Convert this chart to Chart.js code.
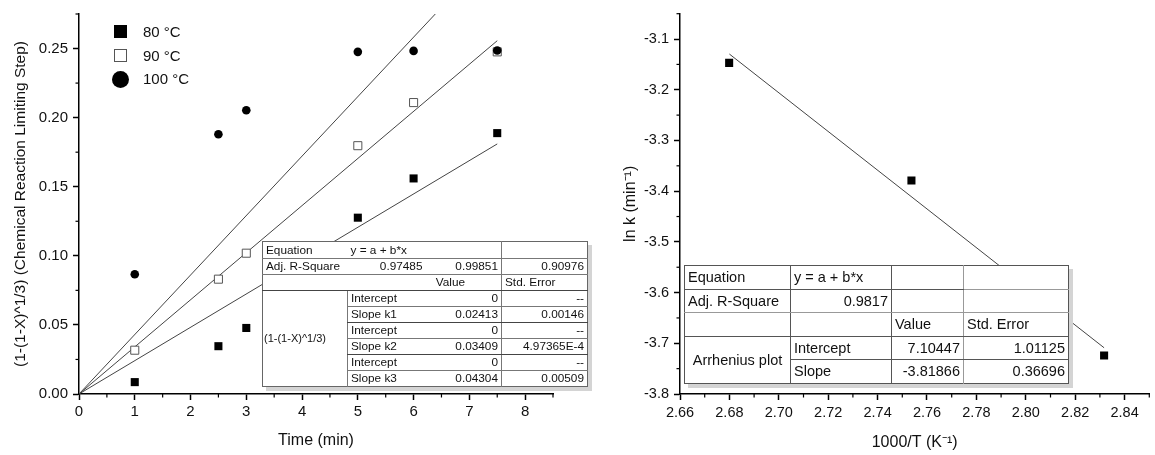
<!DOCTYPE html>
<html>
<head>
<meta charset="utf-8">
<script src="https://cdn.jsdelivr.net/npm/chart.js@4/dist/chart.umd.min.js"></script>
<style>
    body { margin: 0; background: #fff; font-family: Arial, "Liberation Sans", sans-serif; }
    #page { position: relative; width: 1155px; height: 455px; overflow: hidden; }
    .chart-box { position: absolute; top: 0; height: 455px; }
    .legend { position: absolute; left: 110px; top: 22px; font-size: 15px; color: #111; }
    .legend-row { position: relative; height: 23.5px; line-height: 20px; padding-left: 33px; }
    .legend-row .mk { position: absolute; box-sizing: border-box; }
    table.fit { position: absolute; border-collapse: collapse; background: #fff; color: #111;
        table-layout: fixed; box-shadow: 4px 4px 0 #d4d4d4; }
    table.fit td { padding: 0 3px; white-space: nowrap; overflow: hidden; border: 0; }
    #tblLeft { left: 262px; top: 241px; font-size: 11.8px; border: 1px solid #666; }
    #tblLeft td { height: 15px; line-height: 15px; }
    #tblRight { left: 684px; top: 265px; font-size: 14.5px; border: 1px solid #555; }
    #tblRight td { height: 22.5px; line-height: 22px; }
    .r { text-align: right; }
    .c { text-align: center; }
</style>
</head>
<body>
<div id="page">
    <div class="chart-box" style="left:0;width:578px;"><canvas id="kineticsChart"></canvas></div>
    <div class="chart-box" style="left:578px;width:577px;"><canvas id="arrheniusChart"></canvas></div>
    <div class="legend" id="legend"></div>
    <table class="fit" id="tblLeft"></table>
    <table class="fit" id="tblRight"></table>
</div>
<script>
// ---- data: conversion vs time ----
const timeMin = [1, 2.5, 3, 5, 6, 7.5];
const conv80 = [0.0086, 0.0346, 0.0478, 0.1276, 0.1560, 0.1888];
const conv90 = [0.0317, 0.0831, 0.1019, 0.1797, 0.2109, 0.2476];
const conv100 = [0.0867, 0.1880, 0.2053, 0.2476, 0.2483, 0.2486];
const seriesLabels = ['80 °C', '90 °C', '100 °C'];
const fitSlopes = [0.02413, 0.03409, 0.04304];
const fitTimeRange = [0, 7.5];

// ---- data: Arrhenius plot ----
const invTemp = [2.6799, 2.7537, 2.8317];
const lnK = [-3.147, -3.379, -3.724];
const arrFit = { intercept: 7.10447, slope: -3.81866 };
const arrFitRange = [2.68, 2.8317];

const FONT = 'Arial, "Liberation Sans", sans-serif';
const INK = '#111';

// short minor ticks between the major ones
const minorTicks = {
    id: 'minorTicks',
    afterDraw(chart, args, opts) {
        const ctx = chart.ctx;
        ctx.save();
        ctx.strokeStyle = '#000';
        ctx.lineWidth = 1.2;
        ['x', 'y'].forEach(id => {
            const s = chart.scales[id];
            const step = opts[id];
            if (!s || !step) return;
            const n0 = Math.ceil(s.min / step - 1e-6);
            const n1 = Math.floor(s.max / step + 1e-6);
            for (let i = n0; i <= n1; i++) {
                if (Math.abs(i % 2) === 0) continue;
                const p = s.getPixelForValue(i * step);
                ctx.beginPath();
                if (id === 'x') { ctx.moveTo(p, s.top); ctx.lineTo(p, s.top + 3.5); }
                else { ctx.moveTo(s.right, p); ctx.lineTo(s.right - 3.5, p); }
                ctx.stroke();
            }
        });
        ctx.restore();
    }
};

function axis(opts) {
    return {
        type: 'linear',
        min: opts.min,
        max: opts.max,
        border: { display: true, color: '#000', width: 1.5 },
        grid: { display: true, drawOnChartArea: false, drawTicks: true, tickLength: 6, tickColor: '#000', tickWidth: 1.5 },
        ticks: {
            padding: opts.pad,
            color: INK,
            font: { family: FONT, size: opts.tickSize },
            autoSkip: false,
            maxRotation: 0,
            callback: v => v.toFixed(opts.digits)
        },
        title: {
            display: true,
            text: opts.title,
            color: INK,
            font: { family: FONT, size: opts.titleSize },
            padding: opts.titlePad
        },
        // majors only at whole steps, not at the axis ends
        afterBuildTicks: s => {
            const ticks = [];
            const n0 = Math.ceil(opts.min / opts.step - 1e-6);
            const n1 = Math.floor(opts.max / opts.step + 1e-6);
            for (let i = n0; i <= n1; i++) ticks.push({ value: Math.round(i * opts.step * 1e6) / 1e6 });
            s.ticks = ticks;
        },
        afterFit: s => {
            if (opts.width) s.width = opts.width;
            if (opts.height) s.height = opts.height;
        }
    };
}

function pts(xs, ys) {
    return xs.map((x, i) => ({ x: x, y: ys[i] }));
}

function fitLine(slope, intercept, range) {
    return range.map(x => ({ x: x, y: intercept + slope * x }));
}

function lineSet(data) {
    return { type: 'line', data: data, showLine: true, borderColor: '#444', borderWidth: 1,
        pointRadius: 0, fill: false, order: 10 };
}

const kineticsDatasets = [
    { label: seriesLabels[0], data: pts(timeMin, conv80), pointStyle: 'rect', pointRadius: 5.7,
      backgroundColor: '#000', borderColor: '#000', borderWidth: 0, order: 3 },
    { label: seriesLabels[1], data: pts(timeMin, conv90), pointStyle: 'rect', pointRadius: 5.7,
      backgroundColor: '#fff', borderColor: '#555', borderWidth: 1, order: 2 },
    { label: seriesLabels[2], data: pts(timeMin, conv100), pointStyle: 'circle', pointRadius: 4.3,
      backgroundColor: '#000', borderColor: '#000', borderWidth: 0, order: 1 }
];
fitSlopes.forEach(k => kineticsDatasets.push(lineSet(fitLine(k, 0, fitTimeRange))));

new Chart(document.getElementById('kineticsChart'), {
    type: 'scatter',
    data: { datasets: kineticsDatasets },
    options: {
        responsive: true,
        maintainAspectRatio: false,
        animation: false,
        layout: { padding: { left: 0, top: 11, right: 25, bottom: 0 } },
        plugins: {
            legend: { display: false },
            tooltip: { enabled: false },
            minorTicks: { x: 0.5, y: 0.025 }
        },
        scales: {
            x: axis({ min: 0, max: 8.5, step: 1, digits: 0, pad: 3, height: 61, tickSize: 15,
                title: 'Time (min)', titleSize: 16, titlePad: { top: 4, bottom: 5 } }),
            y: axis({ min: 0, max: 0.275, step: 0.05, digits: 2, pad: 5, width: 79, tickSize: 15,
                title: '(1-(1-X)^1/3) (Chemical Reaction Limiting Step)', titleSize: 15.5, titlePad: { top: 11, bottom: 4 } })
        }
    },
    plugins: [minorTicks]
});

new Chart(document.getElementById('arrheniusChart'), {
    type: 'scatter',
    data: {
        datasets: [
            { label: 'ln k', data: pts(invTemp, lnK), pointStyle: 'rect', pointRadius: 5.7,
              backgroundColor: '#000', borderColor: '#000', borderWidth: 0, order: 1 },
            lineSet(fitLine(arrFit.slope, arrFit.intercept, arrFitRange))
        ]
    },
    options: {
        responsive: true,
        maintainAspectRatio: false,
        animation: false,
        layout: { padding: { left: 0, top: 11, right: 2, bottom: 0 } },
        plugins: {
            legend: { display: false },
            tooltip: { enabled: false },
            minorTicks: { x: 0.01, y: 0.05 }
        },
        scales: {
            x: axis({ min: 2.66, max: 2.85, step: 0.02, digits: 2, pad: 4, height: 61, tickSize: 14.5,
                title: '1000/T (K⁻¹)', titleSize: 16, titlePad: { top: 4, bottom: 3 } }),
            y: axis({ min: -3.8, max: -3.05, step: 0.1, digits: 1, pad: 5, width: 102, tickSize: 14.5,
                title: 'ln k (min⁻¹)', titleSize: 16, titlePad: { top: 43, bottom: 4 } })
        }
    },
    plugins: [minorTicks]
});

// ---- legend (HTML overlay) ----
const legendMarks = [
    'left:4px;top:3px;width:13px;height:13px;background:#000;',
    'left:4px;top:3px;width:13px;height:13px;background:#fff;border:1px solid #555;',
    'left:2px;top:2px;width:17px;height:17px;background:#000;border-radius:50%;'
];
document.getElementById('legend').innerHTML = seriesLabels.map((t, i) =>
    `<div class="legend-row"><span class="mk" style="${legendMarks[i]}"></span>${t}</div>`).join('');

// ---- fit result tables ----
const L = 'border-left:1px solid #777;';
const B = 'border-bottom:1px solid #777;';
const BD = 'border-bottom:1.5px solid #444;';
document.getElementById('tblLeft').innerHTML = `
    <colgroup><col style="width:85px"><col style="width:78px"><col style="width:76px"><col style="width:86px"></colgroup>
    <tr><td style="${B}height:16px">Equation</td><td colspan="2" style="${B}">y = a + b*x</td><td style="${B}${L}"></td></tr>
    <tr><td style="${B}">Adj. R-Square</td><td class="r" style="${B}">0.97485</td><td class="r" style="${B}">0.99851</td><td class="r" style="${B}${L}">0.90976</td></tr>
    <tr><td style="${BD}"></td><td style="${BD}"></td><td class="r" style="${BD}padding-right:36px">Value</td><td style="${BD}${L}">Std. Error</td></tr>
    <tr><td rowspan="6" style="padding:0 1px;font-size:11px">(1-(1-X)^1/3)</td><td style="${L}${B}">Intercept</td><td class="r" style="${B}">0</td><td class="r" style="${L}${B}">--</td></tr>
    <tr><td style="${L}${BD}">Slope k1</td><td class="r" style="${BD}">0.02413</td><td class="r" style="${L}${BD}">0.00146</td></tr>
    <tr><td style="${L}${B}">Intercept</td><td class="r" style="${B}">0</td><td class="r" style="${L}${B}">--</td></tr>
    <tr><td style="${L}${BD}">Slope k2</td><td class="r" style="${BD}">0.03409</td><td class="r" style="${L}${BD}">4.97365E-4</td></tr>
    <tr><td style="${L}${B}">Intercept</td><td class="r" style="${B}">0</td><td class="r" style="${L}${B}">--</td></tr>
    <tr><td style="${L}">Slope k3</td><td class="r">0.04304</td><td class="r" style="${L}">0.00509</td></tr>`;

const RL = 'border-left:1px solid #555;';
const RLg = 'border-left:1px solid #999;';
const RB = 'border-bottom:1px solid #555;';
const RBg = 'border-bottom:1px solid #999;';
document.getElementById('tblRight').innerHTML = `
    <colgroup><col style="width:106px"><col style="width:101px"><col style="width:72px"><col style="width:105px"></colgroup>
    <tr><td style="${RB}">Equation</td><td style="${RB}${RL}">y = a + b*x</td><td style="${RB}${RL}"></td><td style="${RBg}${RLg}"></td></tr>
    <tr><td style="${RBg}">Adj. R-Square</td><td class="r" style="${RBg}${RL}">0.9817</td><td style="${RBg}${RL}"></td><td style="${RBg}${RLg}"></td></tr>
    <tr><td style="${RB}"></td><td style="${RB}${RL}"></td><td style="${RB}${RL}">Value</td><td style="${RB}${RLg}">Std. Error</td></tr>
    <tr><td rowspan="2" class="c">Arrhenius plot</td><td style="${RB}${RL}">Intercept</td><td class="r" style="${RB}${RL}">7.10447</td><td class="r" style="${RB}${RLg}">1.01125</td></tr>
    <tr><td style="${RL}">Slope</td><td class="r" style="${RL}">-3.81866</td><td class="r" style="${RLg}">0.36696</td></tr>`;
</script>
</body>
</html>
